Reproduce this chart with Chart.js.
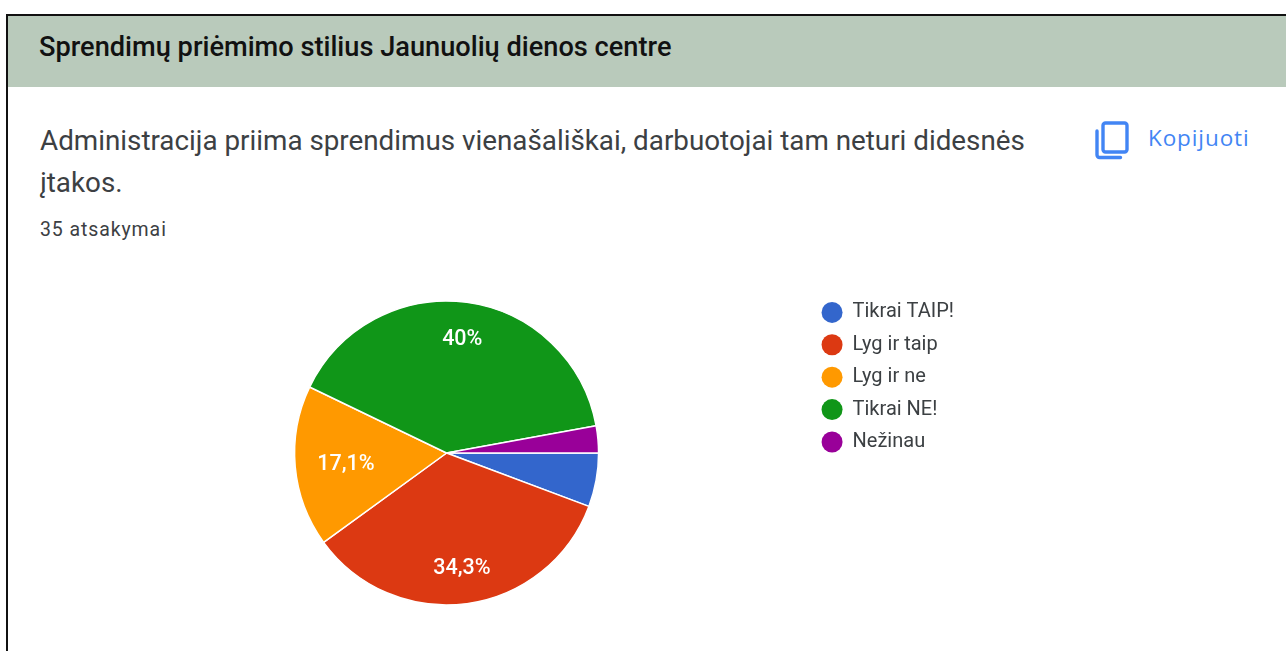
<!DOCTYPE html>
<html lang="lt">
<head>
<meta charset="utf-8">
<title>Sprendimų priėmimo stilius</title>
<script src="https://cdn.jsdelivr.net/npm/chart.js@4"></script>
<style>
html,body{margin:0;padding:0;background:#fff;width:1286px;height:651px;overflow:hidden;font-family:Roboto,sans-serif}
#frame{position:absolute;left:6px;top:14px;width:1290px;height:660px;border:2px solid #111;box-sizing:border-box}
#head{position:absolute;left:8px;top:16px;width:1278px;height:71px;background:#b9cabb}
#title{position:absolute;left:39px;top:31px;font-size:27.2px;line-height:32px;font-weight:500;color:#111;white-space:nowrap}
#q{position:absolute;left:40px;top:120px;font-size:27.8px;line-height:42px;color:#3c4043;white-space:nowrap}
#n{position:absolute;left:40px;top:218px;font-size:19.5px;line-height:24px;color:#3c4043;white-space:nowrap;letter-spacing:.9px}
#copy{position:absolute;left:1148px;top:124px;font-family:"Open Sans",sans-serif;font-size:22.5px;line-height:28px;font-weight:500;color:#4285f4;white-space:nowrap;letter-spacing:.9px}
#icon{position:absolute;left:1094px;top:120px}
#wrap{position:absolute;left:84px;top:290px;width:880px;height:326px}
</style>
</head>
<body>
<div id="frame"></div>
<div id="head"></div>
<div id="title">Sprendimų priėmimo stilius Jaunuolių dienos centre</div>
<div id="q">Administracija priima sprendimus vienašališkai, darbuotojai tam neturi didesnės<br>įtakos.</div>
<div id="n">35 atsakymai</div>
<svg id="icon" width="36" height="40" viewBox="0 0 36 40" fill="none" stroke="#4285f4" stroke-width="3.4" stroke-linejoin="round" stroke-linecap="round"><rect x="9" y="3" width="24" height="29" rx="2.5"/><path d="M3 11v24a2.5 2.5 0 0 0 2.5 2.5h21"/></svg>
<div id="copy">Kopijuoti</div>
<div id="wrap"><canvas id="c"></canvas></div>
<script>
const categories = ['Tikrai TAIP!', 'Lyg ir taip', 'Lyg ir ne', 'Tikrai NE!', 'Nežinau'];
const responses = [2, 12, 6, 14, 1];
const sliceLabels = ['', '34,3%', '17,1%', '40%', ''];
const sliceColors = ['#3366cc', '#dc3912', '#ff9900', '#109618', '#990099'];

const sliceText = {
  id: 'sliceText',
  afterDatasetsDraw(chart) {
    const ctx = chart.ctx;
    const arcs = chart.getDatasetMeta(0).data;
    ctx.save();
    ctx.fillStyle = '#fff';
    ctx.font = '500 21.5px Roboto';
    ctx.textAlign = 'center';
    ctx.textBaseline = 'middle';
    arcs.forEach((arc, i) => {
      if (!sliceLabels[i]) return;
      const mid = (arc.startAngle + arc.endAngle) / 2;
      const hw = ctx.measureText(sliceLabels[i]).width / 2, hh = 10;
      const limit = arc.outerRadius * 0.865;
      // push the label outwards until its farthest corner reaches the limit
      let r = 0;
      while (Math.hypot(Math.abs(Math.cos(mid)) * (r + 1) + hw, Math.abs(Math.sin(mid)) * (r + 1) + hh) <= limit) r += 1;
      ctx.fillText(sliceLabels[i], arc.x + Math.cos(mid) * r, arc.y + Math.sin(mid) * r + 2.5);
    });
    ctx.restore();
  }
};

new Chart(document.getElementById('c'), {
  type: 'pie',
  data: {
    labels: categories,
    datasets: [{
      data: responses,
      backgroundColor: sliceColors,
      borderColor: '#fff',
      borderWidth: 1.5
    }]
  },
  options: {
    responsive: true,
    maintainAspectRatio: false,
    animation: false,
    rotation: 90,
    radius: 152,
    layout: { padding: 0 },
    plugins: {
      tooltip: { enabled: false },
      legend: {
        position: 'right',
        align: 'start',
        onClick: null,
        labels: {
          usePointStyle: true,
          pointStyle: 'circle',
          boxHeight: 14.85,
          pointStyleWidth: 21,
          padding: 12.4,
          color: '#3c4043',
          font: { family: 'Roboto', size: 20 },
          generateLabels(chart) {
            return Chart.overrides.doughnut.plugins.legend.labels.generateLabels(chart)
              .map(item => ({ ...item, lineWidth: 0 }));
          }
        }
      }
    }
  },
  plugins: [sliceText]
});
</script>
</body>
</html>
